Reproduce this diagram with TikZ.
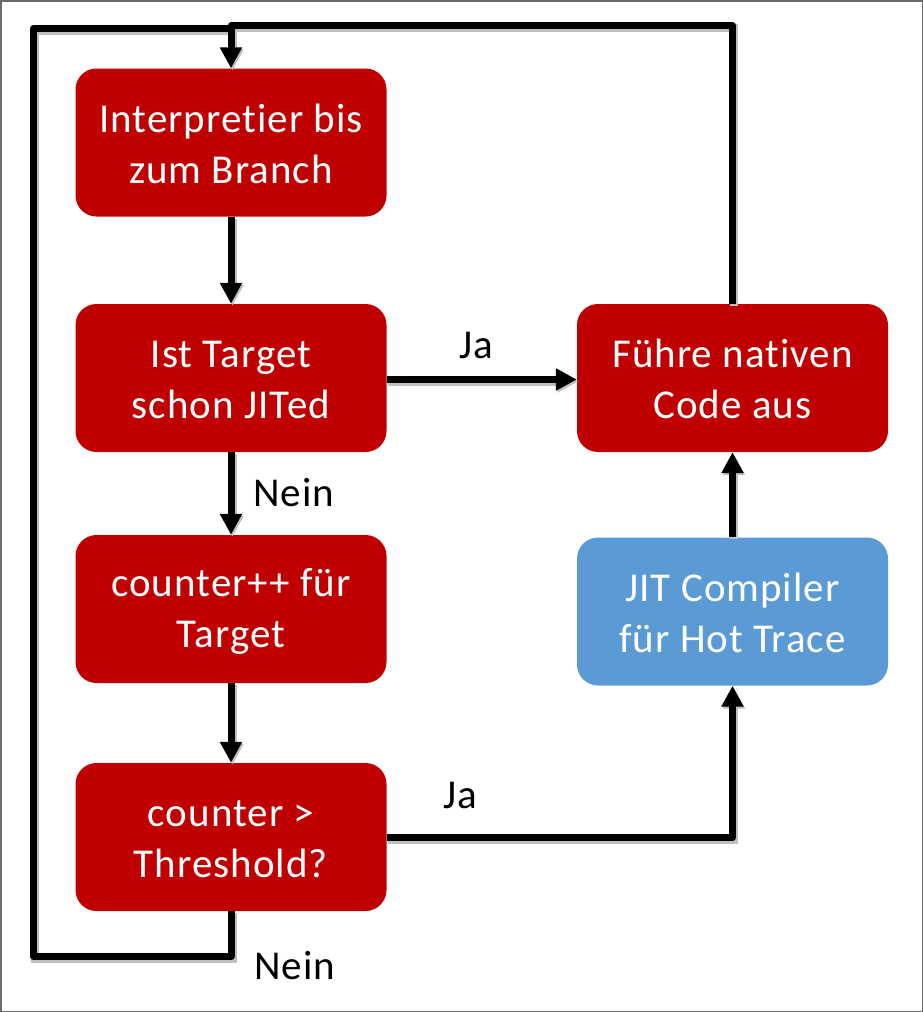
\documentclass[tikz,border=0pt]{standalone}
\usepackage{fontspec}
\setmainfont{Carlito}[Ligatures={NoCommon,NoRequired,NoContextual}, LetterSpace=2.5]
\usetikzlibrary{arrows.meta}
\definecolor{boxred}{HTML}{C00000}
\definecolor{boxblue}{HTML}{5B9BD5}
\definecolor{frame}{HTML}{6B6B6B}
\newcommand{\bstrut}{\rule[-4pt]{0pt}{38pt}}
\tikzset{
  flowbox/.style={rounded corners=21pt, minimum width=311pt, minimum height=148pt,
    inner sep=0pt, align=center, text=white, font=\fontsize{41}{51}\selectfont},
  redbox/.style={flowbox, fill=boxred},
  bluebox/.style={flowbox, fill=boxblue},
  conn/.style={line width=7pt, line join=round, draw=black,
    preaction={draw=black!25, line width=8pt, transform canvas={shift={(1.5pt,-2pt)}}}},
  arr/.style={conn, -{Triangle[width=21pt,length=21pt]}},
  lbl/.style={anchor=base west, inner sep=0pt, font=\fontsize{41}{51}\selectfont}
}
\begin{document}
\begin{tikzpicture}[x=1pt,y=-1pt]
\useasboundingbox (0,0) rectangle (923,1012);
\draw[frame, line width=1.5pt] (0.75,0.75) rectangle (922.25,1011.25);

\node[redbox]  (b1) at (231,142.5) {\bstrut Interpretier bis\\\bstrut zum Branch};
\node[redbox]  (b2) at (231,378)   {\bstrut Ist Target\\\bstrut schon JITed};
\node[redbox]  (b3) at (231,609)   {\bstrut counter++ für\\\bstrut Target};
\node[redbox]  (b4) at (231,837)   {\bstrut counter >\\\bstrut Threshold?};
\node[redbox]  (b5) at (732.5,378) {\bstrut Führe nativen\\\bstrut Code aus};
\node[bluebox] (b6) at (732.5,611.5) {\bstrut JIT Compiler\\\bstrut für Hot Trace};

\coordinate (topR) at (732.5,25.5);
\coordinate (topL) at (231,25.5);
\coordinate (loopA) at (231,956.5);
\coordinate (loopB) at (33.5,956.5);
\coordinate (loopC) at (33.5,28.5);
\coordinate (loopD) at (231,28.5);

% left loop (Nein)
\draw[conn] (b4.south) -- (loopA) -- (loopB) -- (loopC) -- (loopD);
% right loop back to start
\draw[arr] (b5.north) -- (topR) -- (topL) -- (b1.north);

\draw[arr] (b1.south) -- (b2.north);
\draw[arr] (b2.east |- 0,379.5) -- (b5.west |- 0,379.5);
\draw[arr] (b2.south) -- (b3.north);
\draw[arr] (b3.south) -- (b4.north);
\draw[arr] (b4.east |- 0,837.5) -| (b6.south);
\draw[arr] (b6.north) -- (b5.south);

\node[lbl] (ja1) at (459,358) {Ja};
\node[lbl] (nein1) at (253,506) {Nein};
\node[lbl] (ja2) at (443,808) {Ja};
\node[lbl] (nein2) at (254,979) {Nein};
\end{tikzpicture}
\end{document}
